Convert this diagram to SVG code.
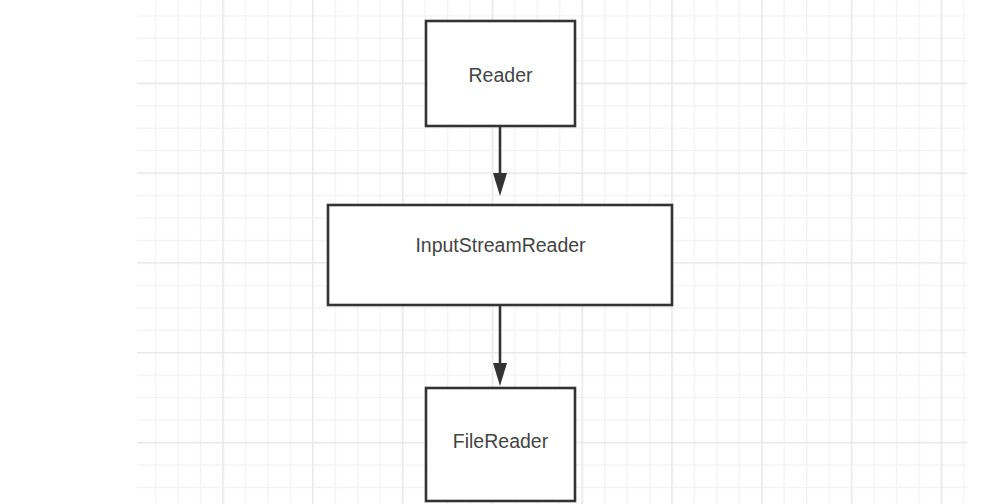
<svg xmlns="http://www.w3.org/2000/svg" width="1008" height="504" viewBox="0 0 1008 504">
  <defs>
    <style>
      .box { fill: #ffffff; stroke: #333333; stroke-width: 2.6; }
      .label { font-family: "Liberation Sans", Arial, sans-serif; font-size: 19.5px; fill: #444444; text-anchor: middle; }
      .conn { stroke: #333333; stroke-width: 2.6; fill: none; }
    </style>
    <pattern id="minor" patternUnits="userSpaceOnUse" x="222.4" y="82.7" width="22.45" height="22.45">
      <rect x="0" y="0" width="1.2" height="22.45" fill="#f2f2f2"/>
      <rect x="0" y="0" width="22.45" height="1.2" fill="#f2f2f2"/>
    </pattern>
    <pattern id="major" patternUnits="userSpaceOnUse" x="222.3" y="82.6" width="89.8" height="89.8">
      <rect x="0" y="0" width="1.4" height="89.8" fill="#e9e9e9"/>
      <rect x="0" y="0" width="89.8" height="1.4" fill="#e9e9e9"/>
    </pattern>
    <marker id="arrow" markerUnits="userSpaceOnUse" markerWidth="24" markerHeight="16" refX="17" refY="7" orient="auto">
      <path d="M0,0 L23,7 L0,14 Z" fill="#333333"/>
    </marker>
  </defs>
  <rect x="0" y="0" width="1008" height="504" fill="#ffffff"/>
  <g id="grid">
    <rect x="137" y="0" width="830" height="504" fill="url(#minor)"/>
    <rect x="137" y="0" width="830" height="504" fill="url(#major)"/>
  </g>
  <g id="connectors">
    <path class="conn" d="M500,126 L500,190" marker-end="url(#arrow)"/>
    <path class="conn" d="M500,305 L500,380" marker-end="url(#arrow)"/>
  </g>
  <g id="node-reader">
    <rect class="box" x="426" y="21" width="149" height="105"/>
    <text class="label" x="500.5" y="81.5">Reader</text>
  </g>
  <g id="node-inputstreamreader">
    <rect class="box" x="328" y="205" width="344" height="100"/>
    <text class="label" x="500.5" y="251.5">InputStreamReader</text>
  </g>
  <g id="node-filereader">
    <rect class="box" x="426" y="388" width="149" height="113"/>
    <text class="label" x="500.5" y="447.5">FileReader</text>
  </g>
</svg>
